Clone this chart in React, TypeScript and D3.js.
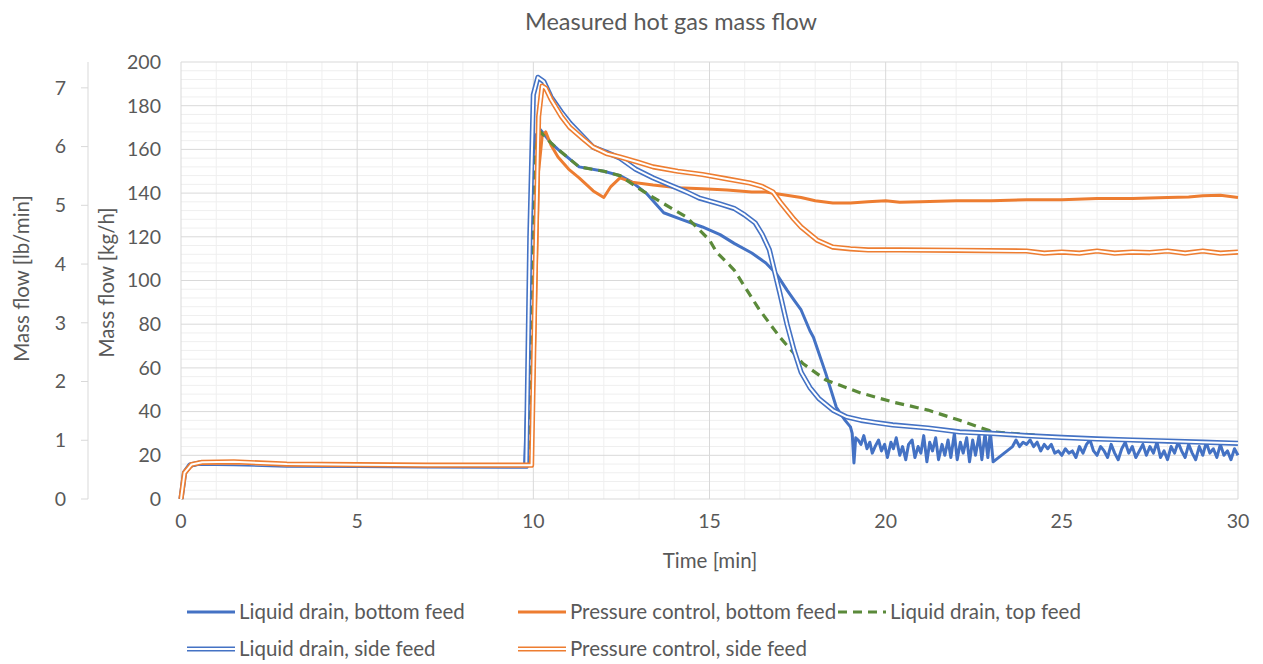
import React from "react";
import * as d3 from "d3";

type Pt = [number, number];

const chartTitle = "Measured hot gas mass flow";
const xTitle = "Time [min]";
const yTitle = "Mass flow [kg/h]";
const y2Title = "Mass flow [lb/min]";

const xTicks = [0, 5, 10, 15, 20, 25, 30];
const yTicks = [0, 20, 40, 60, 80, 100, 120, 140, 160, 180, 200];
const lbTicks = [0, 1, 2, 3, 4, 5, 6, 7];

// Liquid drain, bottom feed (blue, solid)
const liquidDrainBottom: Pt[] = [
  [0, 0], [0.1, 11], [0.25, 15], [0.5, 16], [1.2, 16.5], [2, 15.8], [4, 15.5], [6, 15.3], [8, 15.2],
  [9.75, 15], [9.85, 60], [9.95, 150], [10.05, 166], [10.2, 169], [10.5, 163], [10.7, 160], [11.3, 152],
  [12, 150], [12.46, 148], [12.8, 145], [13.2, 140], [13.7, 131], [14.2, 128], [14.8, 124.5], [15.3, 121],
  [15.7, 117], [16.2, 112.6], [16.6, 108], [16.9, 103], [17.2, 95.6], [17.4, 91], [17.6, 86.5], [17.85, 77],
  [17.95, 74], [18.3, 57.5], [18.6, 42], [18.85, 36], [19.0, 33], [19.05, 30], [19.1, 16.5], [19.15, 28],
  [19.22, 27], [19.3, 25], [19.38, 29], [19.47, 23], [19.55, 26], [19.62, 21], [19.7, 24], [19.8, 27],
  [19.88, 22], [19.97, 25], [20.05, 19], [20.15, 26], [20.22, 23], [20.3, 28], [20.4, 20], [20.48, 24],
  [20.57, 18], [20.65, 25], [20.75, 27], [20.83, 19], [20.92, 24], [21.0, 21], [21.08, 29], [21.17, 17],
  [21.25, 26], [21.33, 22], [21.42, 28], [21.5, 18], [21.6, 25], [21.68, 20], [21.77, 27], [21.85, 19],
  [21.95, 30], [22.03, 18], [22.12, 26], [22.2, 21], [22.3, 28], [22.38, 17], [22.47, 27], [22.55, 20],
  [22.65, 29], [22.73, 18], [22.82, 30], [22.9, 19], [22.97, 31], [23.05, 17], [23.6, 24], [23.7, 27],
  [23.8, 24], [23.9, 26], [24.0, 25], [24.1, 27], [24.2, 24], [24.3, 26], [24.4, 22], [24.5, 25],
  [24.6, 23], [24.7, 25], [24.8, 21], [24.9, 22], [25.0, 20], [25.1, 23], [25.2, 21], [25.3, 22],
  [25.4, 19], [25.5, 24], [25.6, 21], [25.7, 25], [25.8, 27], [25.9, 22], [26.0, 20], [26.1, 24],
  [26.2, 22], [26.3, 19], [26.4, 25], [26.5, 21], [26.6, 18], [26.7, 23], [26.8, 26], [26.9, 21],
  [27.0, 24], [27.1, 19], [27.2, 22], [27.3, 25], [27.4, 20], [27.5, 24], [27.6, 21], [27.7, 26],
  [27.8, 19], [27.9, 22], [28.0, 18], [28.1, 24], [28.2, 21], [28.3, 26], [28.4, 22], [28.5, 19],
  [28.6, 25], [28.7, 21], [28.8, 18], [28.9, 24], [29.0, 20], [29.1, 26], [29.2, 21], [29.3, 23],
  [29.4, 19], [29.5, 25], [29.6, 20], [29.7, 22], [29.8, 18], [29.9, 23], [30, 20],
];

// Pressure control, bottom feed (orange, solid)
const pressureBottom: Pt[] = [
  [0, 0], [0.1, 12], [0.3, 15.5], [0.6, 16.5], [1.5, 16.8], [3, 15.8], [5, 15.6], [7, 15.4], [9.95, 15.5],
  [10.05, 80], [10.15, 150], [10.25, 166], [10.35, 168], [10.5, 162], [10.7, 156.5], [11.0, 151], [11.3, 147],
  [11.7, 141], [12.0, 138], [12.2, 143], [12.46, 147], [12.8, 145], [13.4, 143.7], [14.1, 142.5], [14.8, 142],
  [15.5, 141.4], [16.2, 140.5], [16.6, 140.5], [17.0, 139.5], [17.6, 138], [18.0, 136.5], [18.5, 135.5],
  [19.0, 135.5], [19.5, 136], [20.0, 136.5], [20.4, 135.8], [21, 136], [22, 136.5], [23, 136.5], [24, 137],
  [25, 137], [26, 137.5], [27, 137.5], [28, 138], [28.6, 138.2], [29, 138.8], [29.5, 139], [30, 138],
];

// Liquid drain, top feed (green, dashed)
const liquidDrainTop: Pt[] = [
  [0, 0], [0.1, 11], [0.25, 15], [0.5, 16.2], [1.5, 16.4], [3, 15.6], [5, 15.4], [7, 15.3], [9.85, 15],
  [9.95, 100], [10.05, 160], [10.2, 168], [10.5, 163], [10.7, 160], [11.3, 152], [12.0, 150], [12.46, 148],
  [13.0, 142], [13.4, 138], [14.35, 129], [15.0, 118.5], [15.2, 113], [15.7, 104.8], [16.4, 87], [17.0, 74],
  [17.65, 62], [18.3, 54.5], [19.3, 48.5], [20.2, 44.4], [21.2, 40.7], [22.1, 36], [23.05, 30.7],
  [24.9, 28.4], [26.7, 27], [28.6, 26], [30, 25.6],
];

// Liquid drain, side feed (blue, double)
const liquidDrainSide: Pt[] = [
  [0, 0], [0.1, 12], [0.25, 15.5], [0.5, 16.4], [1.5, 16.2], [3, 15.5], [5, 15.4], [7, 15.2], [9.8, 15],
  [9.9, 120], [10.0, 185], [10.13, 193], [10.3, 191], [10.5, 184], [10.8, 177], [11.04, 172], [11.4, 166],
  [11.7, 161], [12.1, 158.5], [12.46, 156], [12.9, 151], [13.4, 147], [13.9, 143.5], [14.35, 140.5],
  [14.7, 137.8], [15.3, 135], [15.7, 133], [16.0, 130], [16.3, 126.3], [16.5, 121], [16.7, 114], [16.85, 104],
  [17.0, 94], [17.2, 80], [17.4, 68], [17.6, 58], [17.85, 51], [18.1, 46], [18.5, 40.7], [18.9, 37.5],
  [19.3, 36], [19.7, 35], [20.2, 33.9], [21.2, 32.5], [22.1, 30.7], [23, 30], [24, 29], [25, 28.2],
  [26, 27.5], [27, 27], [28, 26.5], [29, 26], [30, 25.5],
];

// Pressure control, side feed (orange, double)
const pressureSide: Pt[] = [
  [0, 0], [0.1, 12], [0.3, 15.8], [0.6, 16.8], [1.5, 17], [3, 16], [5, 15.7], [7, 15.5], [9.95, 15.5],
  [10.05, 100], [10.15, 175], [10.25, 189], [10.35, 188], [10.5, 183], [10.8, 175], [11.04, 170], [11.4, 165],
  [11.7, 161], [12.1, 158], [12.46, 156.5], [13.0, 154], [13.4, 152], [14.1, 150], [14.8, 148.5],
  [15.5, 146.5], [16.15, 144.6], [16.5, 143], [16.8, 140.5], [17.0, 136], [17.2, 132], [17.4, 128],
  [17.6, 124.5], [18.05, 118.5], [18.5, 115.3], [19.0, 114.5], [19.5, 114], [20.4, 114], [22, 113.8],
  [24, 113.5], [24.5, 112.5], [25, 113], [25.5, 112.5], [26, 113.5], [26.5, 112.5], [27, 113], [27.5, 112.8],
  [28, 113.5], [28.5, 112.5], [29, 113.5], [29.5, 112.5], [30, 113],
];

const BLUE = "#4472C4";
const ORANGE = "#ED7D31";
const GREEN = "#5B8A3A";
const TEXT = "#595959";
const FONT = "Lato, 'Open Sans', sans-serif";

type Kind = "solid" | "dashed" | "double";
const series: { name: string; data: Pt[]; color: string; kind: Kind }[] = [
  { name: "Liquid drain, bottom feed", data: liquidDrainBottom, color: BLUE, kind: "solid" },
  { name: "Pressure control, bottom feed", data: pressureBottom, color: ORANGE, kind: "solid" },
  { name: "Liquid drain, top feed", data: liquidDrainTop, color: GREEN, kind: "dashed" },
  { name: "Liquid drain, side feed", data: liquidDrainSide, color: BLUE, kind: "double" },
  { name: "Pressure control, side feed", data: pressureSide, color: ORANGE, kind: "double" },
];

// legend slots: [x of line start, y]
const legendSlots: [number, number][] = [
  [187, 612], [518, 612], [838, 612], [187, 649], [518, 649],
];

const Stroke = ({ d, color, kind }: { d: string; color: string; kind: Kind }) => {
  if (kind === "double") {
    return (
      <g>
        <path d={d} fill="none" stroke={color} strokeWidth={5.2} strokeLinejoin="round" />
        <path d={d} fill="none" stroke="#fff" strokeWidth={2} strokeLinejoin="round" />
      </g>
    );
  }
  return (
    <path d={d} fill="none" stroke={color} strokeWidth={kind === "dashed" ? 3.2 : 3}
      strokeDasharray={kind === "dashed" ? "9,6" : undefined} strokeLinejoin="round" />
  );
};

export default function App() {
  const W = 1263, H = 664;
  const left = 181, right = 1238, top = 62, bottom = 499;

  const x = d3.scaleLinear().domain([0, 30]).range([left, right]);
  const y = d3.scaleLinear().domain([0, 200]).range([bottom, top]);
  const y2 = d3.scaleLinear().domain([0, 7.44]).range([bottom, top]);

  const line = d3.line<Pt>().x((d) => x(d[0])).y((d) => y(d[1]));

  const minorX = d3.range(0, 31, 1).filter((v) => v % 5 !== 0);
  const minorY = d3.range(0, 201, 4).filter((v) => v % 20 !== 0);

  return (
    <svg width={W} height={H} style={{ position: "absolute", left: 0, top: 0, background: "#fff" }}
      fontFamily={FONT}>
      <text x={671} y={30} textAnchor="middle" fontSize={23.5} fill={TEXT}>{chartTitle}</text>

      {/* grid */}
      <g>
        {minorX.map((v) => (
          <line key={"mx" + v} x1={x(v)} x2={x(v)} y1={top} y2={bottom} stroke="#efefef" strokeWidth={1} />
        ))}
        {minorY.map((v) => (
          <line key={"my" + v} x1={left} x2={right} y1={y(v)} y2={y(v)} stroke="#efefef" strokeWidth={1} />
        ))}
        {xTicks.map((v) => (
          <line key={"gx" + v} x1={x(v)} x2={x(v)} y1={top} y2={bottom} stroke="#d9d9d9" strokeWidth={1} />
        ))}
        {yTicks.map((v) => (
          <line key={"gy" + v} x1={left} x2={right} y1={y(v)} y2={y(v)} stroke="#d9d9d9" strokeWidth={1} />
        ))}
      </g>

      {/* primary y axis labels */}
      {yTicks.map((v) => (
        <text key={"yl" + v} x={161} y={y(v)} dy="0.35em" textAnchor="end" fontSize={19.5} fill={TEXT}>{v}</text>
      ))}
      <text transform={`translate(114,${(top + bottom) / 2 + 2}) rotate(-90)`} textAnchor="middle"
        fontSize={20.5} fill={TEXT}>{yTitle}</text>

      {/* secondary y axis (lb/min) */}
      <line x1={88} x2={88} y1={top} y2={bottom} stroke="#d9d9d9" strokeWidth={1} />
      {lbTicks.map((v) => (
        <g key={"lb" + v}>
          <line x1={81} x2={88} y1={y2(v)} y2={y2(v)} stroke="#d9d9d9" strokeWidth={1} />
          <text x={66} y={y2(v)} dy="0.35em" textAnchor="end" fontSize={19.5} fill={TEXT}>{v}</text>
        </g>
      ))}
      <text transform={`translate(29,${(top + bottom) / 2 - 2}) rotate(-90)`} textAnchor="middle"
        fontSize={20.5} fill={TEXT}>{y2Title}</text>

      {/* x axis labels */}
      {xTicks.map((v) => (
        <text key={"xl" + v} x={x(v)} y={521} dy="0.35em" textAnchor="middle" fontSize={19.5} fill={TEXT}>{v}</text>
      ))}
      <text x={710} y={561} dy="0.35em" textAnchor="middle" fontSize={20.5} fill={TEXT}>{xTitle}</text>

      {/* series */}
      <g>
        {series.map((s) => (
          <Stroke key={s.name} d={line(s.data) || ""} color={s.color} kind={s.kind} />
        ))}
      </g>

      {/* legend */}
      {series.map((s, i) => {
        const [lx, ly] = legendSlots[i];
        const d = `M${lx},${ly}L${lx + 48},${ly}`;
        return (
          <g key={"lg" + s.name}>
            <Stroke d={d} color={s.color} kind={s.kind} />
            <text x={lx + 52} y={ly} dy="0.35em" fontSize={20.5} fill={TEXT}>{s.name}</text>
          </g>
        );
      })}
    </svg>
  );
}
